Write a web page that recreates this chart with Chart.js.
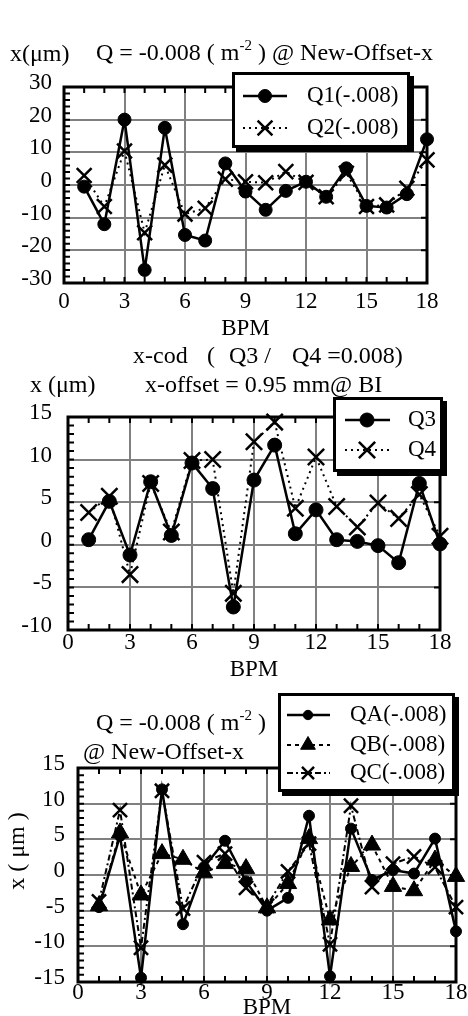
<!DOCTYPE html>
<html>
<head>
<meta charset="utf-8">
<script src="https://cdn.jsdelivr.net/npm/chart.js@4.4.1/dist/chart.umd.min.js"></script>
<style>
    html, body { margin: 0; padding: 0; background: #fff; overflow: hidden; }
    canvas { position: absolute; left: 0; top: 0; }
</style>
</head>
<body>
<canvas id="g1" width="468" height="1016" style="width:468px;height:1016px"></canvas>
<canvas id="g2" width="468" height="1016" style="width:468px;height:1016px"></canvas>
<canvas id="g3" width="468" height="1016" style="width:468px;height:1016px"></canvas>
<script>
// datos
const bpm = [1, 2, 3, 4, 5, 6, 7, 8, 9, 10, 11, 12, 13, 14, 15, 16, 17, 18];
const xTicks = { min: 0, max: 18, paso: 3 };

// gráfico 1: Q = -0.008 @ New-Offset-x
const q1 = [-0.5, -12, 20, -26, 17.5, -15.3, -17, 6.6, -2, -7.6, -1.8, 1, -3.6, 5.1, -6.4, -6.9, -2.8, 14];
const q2 = [2.9, -6.6, 10.4, -14.6, 6.1, -8.9, -7.1, 1.8, 1, 0.7, 4.1, 0.8, -3.6, 3.6, -6.6, -6.1, -1, 7.7];
const yTicks1 = { min: -30, max: 30, paso: 10 };

// gráfico 2: x-cod Q3 / Q4
const q3 = [0.6, 5.1, -1.2, 7.4, 1.1, 9.6, 6.6, -7.3, 7.6, 11.7, 1.3, 4.1, 0.6, 0.4, -0.1, -2.1, 7.2, 0.1];
const q4 = [3.8, 5.7, -3.5, 7.2, 1.5, 9.9, 10, -5.7, 12.1, 14.4, 4.3, 10.3, 4.5, 2.1, 4.9, 3.1, 5.9, 1];
const yTicks2 = { min: -10, max: 15, paso: 5 };

// gráfico 3: QA / QB / QC
const qa = [-4.5, 5.5, -14.4, 12, -6.9, 1.1, 4.8, -0.9, -5, -3.2, 8.3, -14.2, 6.5, -0.7, 0.7, 0.2, 5.1, -7.9];
const qb = [-4.3, 5.9, -2.8, 3, 2.2, 0.3, 1.6, 0.9, -4.6, -1.2, 5.1, -6.3, 1.2, 4.2, -1.6, -2.2, 2.1, -0.2];
const qc = [-3.7, 9.1, -10.2, 11.8, -4.7, 1.8, 3, -1.8, -4.3, 0.5, 4.4, -9.7, 9.7, -1.7, 1.6, 2.6, 1.1, -4.5];
const yTicks3 = { min: -15, max: 15, paso: 5 };

const FUENTE = "'Liberation Serif', 'Times New Roman', serif";
Chart.defaults.font.family = FUENTE;
Chart.defaults.color = '#000';

const puntos = (serie) => serie.map((v, i) => ({ x: bpm[i], y: v }));

// plugin para marco, ticks menores, leyenda y textos
function crearMarco(conf) {
    return {
        id: 'marco',
        beforeDatasetsDraw(chart) {
            const { ctx, chartArea: a, scales: { x, y } } = chart;
            ctx.save();
            ctx.strokeStyle = '#000';
            ctx.lineWidth = 2;
            ctx.beginPath();
            for (let v = x.min; v <= x.max; v += 1) {
                const px = x.getPixelForValue(v);
                ctx.moveTo(px, a.bottom); ctx.lineTo(px, a.bottom - 6);
                ctx.moveTo(px, a.top); ctx.lineTo(px, a.top + 6);
            }
            for (let v = y.min; v <= y.max; v += conf.yMenor) {
                const py = y.getPixelForValue(v);
                ctx.moveTo(a.left, py); ctx.lineTo(a.left + 6, py);
            }
            for (let v = y.min; v <= y.max; v += conf.yMayor) {
                const py = y.getPixelForValue(v);
                ctx.moveTo(a.right, py); ctx.lineTo(a.right - 6, py);
            }
            ctx.stroke();
            ctx.lineWidth = 3;
            ctx.strokeRect(a.left, a.top, a.right - a.left, a.bottom - a.top);
            ctx.restore();
        },
        afterDatasetsDraw(chart) {
            const ley = conf.leyenda;
            const { ctx } = chart;
            const [x1, y1, x2, y2] = ley.caja;
            ctx.save();
            // sombra y caja
            ctx.fillStyle = '#000';
            ctx.fillRect(x1 + ley.sombra, y1 + ley.sombra, x2 - x1, y2 - y1);
            ctx.fillStyle = '#fff';
            ctx.fillRect(x1, y1, x2 - x1, y2 - y1);
            ctx.strokeStyle = '#000';
            ctx.lineWidth = 3;
            ctx.strokeRect(x1 + 1.5, y1 + 1.5, x2 - x1 - 3, y2 - y1 - 3);
            chart.data.datasets.forEach((ds, i) => {
                const yy = ley.filas[i];
                ctx.setLineDash(ds.borderDash || []);
                ctx.lineWidth = ds.borderWidth;
                ctx.beginPath();
                ctx.moveTo(ley.linea[0], yy);
                ctx.lineTo(ley.linea[1], yy);
                ctx.stroke();
                ctx.setLineDash([]);
                ctx.fillStyle = '#000';
                ctx.lineWidth = ds.pointBorderWidth;
                Chart.helpers.drawPoint(ctx, {
                    pointStyle: ds.pointStyle,
                    radius: ds.pointRadius * ley.escalaMarca,
                    rotation: 0,
                    borderWidth: ds.pointBorderWidth
                }, ley.marca, yy);
                ctx.font = `23px ${FUENTE}`;
                ctx.textAlign = 'left';
                ctx.textBaseline = 'middle';
                ctx.fillText(ds.label, ley.texto, yy);
            });
            ctx.restore();
        },
        afterDraw(chart) {
            const { ctx } = chart;
            ctx.save();
            ctx.fillStyle = '#000';
            ctx.textBaseline = 'alphabetic';
            conf.textos.forEach(t => {
                if (t.rot) {
                    ctx.save();
                    ctx.translate(t.x, t.y);
                    ctx.rotate(-Math.PI / 2);
                    ctx.textAlign = 'center';
                    ctx.textBaseline = 'middle';
                    ctx.font = `24px ${FUENTE}`;
                    ctx.fillText(t.partes[0][0], 0, 0);
                    ctx.restore();
                    return;
                }
                ctx.textAlign = 'left';
                let x = t.x;
                t.partes.forEach(([s, sup]) => {
                    ctx.font = `${sup ? 15 : 24}px ${FUENTE}`;
                    ctx.fillText(s, x, sup ? t.y - 10 : t.y);
                    x += ctx.measureText(s).width;
                });
            });
            ctx.restore();
        }
    };
}

class GraficosBPM {
    constructor() {
        this.charts = {};
        this.inicializar();
    }

    inicializar() {
        this.charts.q12 = new Chart(document.getElementById('g1'), this.getConfigQ12());
        this.charts.q34 = new Chart(document.getElementById('g2'), this.getConfigQ34());
        this.charts.qabc = new Chart(document.getElementById('g3'), this.getConfigQABC());
    }

    // ejes comunes
    escalas(yt, e) {
        const rejilla = { color: '#808080', lineWidth: 2, drawTicks: false };
        return {
            x: {
                type: 'linear', min: xTicks.min, max: xTicks.max,
                afterFit: s => { s.height = e.altoX; },
                ticks: { stepSize: xTicks.paso, font: { size: 23 }, padding: e.padX, maxRotation: 0, autoSkip: false },
                grid: rejilla,
                border: { display: false },
                title: { display: true, text: 'BPM', font: { size: 23 }, padding: { top: 0, bottom: e.padTitulo } }
            },
            y: {
                type: 'linear', min: yt.min, max: yt.max,
                afterFit: s => { s.width = e.anchoY; },
                ticks: { stepSize: yt.paso, font: { size: 23 }, padding: e.padY, labelOffset: -4, autoSkip: false },
                grid: rejilla,
                border: { display: false }
            }
        };
    }

    serie(label, data, estilo) {
        return Object.assign({
            label: label,
            data: puntos(data),
            borderColor: '#000',
            backgroundColor: '#000',
            borderWidth: 2.5,
            pointBackgroundColor: '#000',
            pointBorderColor: '#000',
            tension: 0,
            fill: false,
            clip: false
        }, estilo);
    }

    opciones(yt, e, padding) {
        return {
            responsive: false,
            animation: false,
            events: [],
            layout: { padding: padding, autoPadding: false },
            plugins: { legend: { display: false }, tooltip: { enabled: false } },
            scales: this.escalas(yt, e)
        };
    }

    getConfigQ12() {
        return {
            type: 'line',
            data: {
                datasets: [
                    this.serie('Q1(-.008)', q1, { pointStyle: 'circle', pointRadius: 6.5, pointBorderWidth: 1 }),
                    this.serie('Q2(-.008)', q2, { borderWidth: 2, borderDash: [2, 4], pointStyle: 'crossRot', pointRadius: 10.5, pointBorderWidth: 2.5 })
                ]
            },
            options: this.opciones(yTicks1,
                { altoX: 60, anchoY: 64, padX: 5.5, padY: 12, padTitulo: 0 },
                { top: 87, right: 41, bottom: 673, left: 0 }),
            plugins: [crearMarco({
                yMenor: 2, yMayor: 10,
                leyenda: { caja: [232, 72, 410, 148], sombra: 4, escalaMarca: 1, linea: [243, 287], marca: 265, texto: 307, filas: [96, 128] },
                textos: [
                    { x: 10, y: 61, partes: [['x(μm)']] },
                    { x: 96, y: 60, partes: [['Q = -0.008 ( m'], ['-2', 1], [' ) @ New-Offset-x']] }
                ]
            })]
        };
    }

    getConfigQ34() {
        return {
            type: 'line',
            data: {
                datasets: [
                    this.serie('Q3', q3, { pointStyle: 'circle', pointRadius: 7, pointBorderWidth: 1 }),
                    this.serie('Q4', q4, { borderWidth: 2, borderDash: [2, 4], pointStyle: 'crossRot', pointRadius: 11.5, pointBorderWidth: 2.5 })
                ]
            },
            options: this.opciones(yTicks2,
                { altoX: 54, anchoY: 68, padX: -0.5, padY: 16, padTitulo: 0 },
                { top: 417, right: 28, bottom: 332, left: 0 }),
            plugins: [crearMarco({
                yMenor: 1, yMayor: 5,
                leyenda: { caja: [333, 397, 443, 472], sombra: 4, escalaMarca: 1, linea: [345, 390], marca: 367, texto: 408, filas: [420, 450] },
                textos: [
                    { x: 133, y: 363, partes: [['x-cod']] },
                    { x: 207, y: 363, partes: [['(']] },
                    { x: 229, y: 363, partes: [['Q3 /']] },
                    { x: 292, y: 363, partes: [['Q4 =0.008)']] },
                    { x: 30, y: 392, partes: [['x (μm)']] },
                    { x: 145, y: 392, partes: [['x-offset = 0.95 mm@ BI']] }
                ]
            })]
        };
    }

    getConfigQABC() {
        return {
            type: 'line',
            data: {
                datasets: [
                    this.serie('QA(-.008)', qa, { pointStyle: 'circle', pointRadius: 5.5, pointBorderWidth: 1 }),
                    this.serie('QB(-.008)', qb, { borderWidth: 2, borderDash: [4, 4], pointStyle: 'triangle', pointRadius: 10, pointBorderWidth: 1 }),
                    this.serie('QC(-.008)', qc, { borderWidth: 2, borderDash: [6, 3, 2, 3], pointStyle: 'crossRot', pointRadius: 10, pointBorderWidth: 2.5 })
                ]
            },
            options: this.opciones(yTicks3,
                { altoX: 34, anchoY: 78, padX: -3.3, padY: 13, padTitulo: -6 },
                { top: 768, right: 12, bottom: 0, left: 0 }),
            plugins: [crearMarco({
                yMenor: 1, yMayor: 5,
                leyenda: { caja: [278, 693, 455, 792], sombra: 4, escalaMarca: 0.85, linea: [287, 330], marca: 308, texto: 350, filas: [715, 745, 773] },
                textos: [
                    { x: 96, y: 730, partes: [['Q = -0.008 ( m'], ['-2', 1], [' )']] },
                    { x: 83, y: 759, partes: [['@ New-Offset-x']] },
                    { x: 18, y: 851, rot: true, partes: [['x ( μm )']] }
                ]
            })]
        };
    }
}

window.graficosBPM = new GraficosBPM();
</script>
</body>
</html>
